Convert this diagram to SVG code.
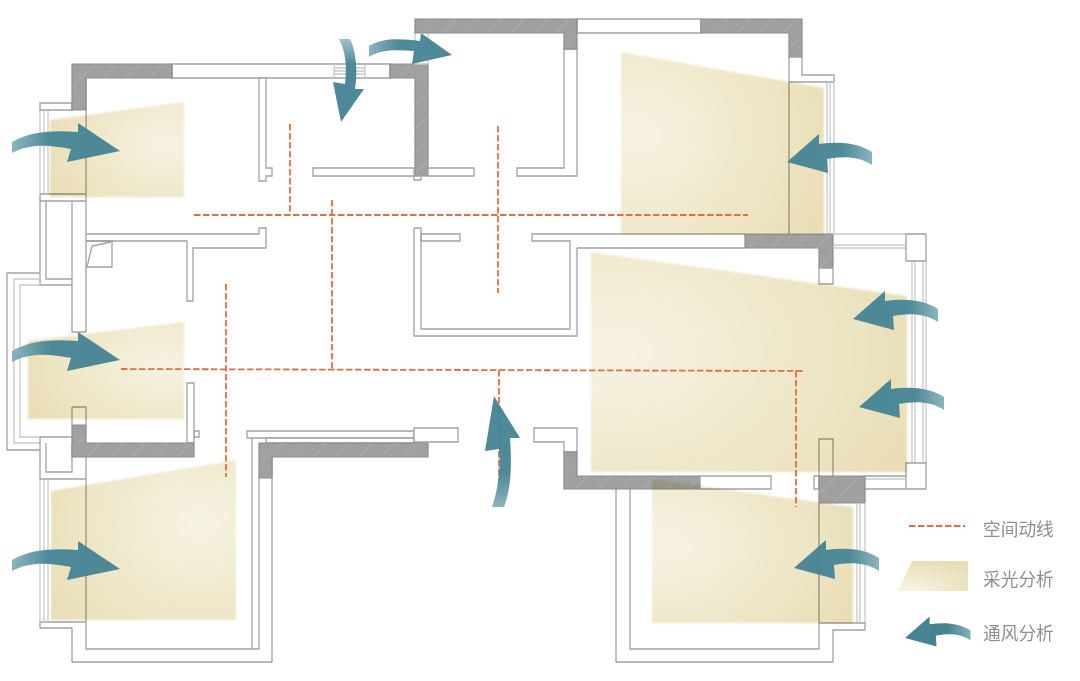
<svg xmlns="http://www.w3.org/2000/svg" width="1080" height="681" viewBox="0 0 1080 681">
<style>
.w{fill:#fff;stroke:#a2a2a2;stroke-width:1.3}
.l{fill:none;stroke:#a2a2a2;stroke-width:1.3}
.f{fill:none;stroke:#c9c9c9;stroke-width:1.3}
.g{fill:url(#hatch);stroke:#8e8e8e;stroke-width:1.2}
.sun{mix-blend-mode:multiply;filter:url(#soft)}
.d{fill:none;stroke:#e0703f;stroke-width:1.8;stroke-dasharray:6.5 2.5}
.t{font-family:"Noto Sans CJK SC","Liberation Sans",sans-serif;font-size:17.7px;fill:#8f8f8f}
.a{opacity:.95}
</style>
<defs>
<pattern id="hatch" width="16" height="16" patternUnits="userSpaceOnUse" patternTransform="rotate(45)">
<rect width="16" height="16" fill="#a0a0a0"/><rect width="1" height="16" fill="#acacac"/>
</pattern>
<filter id="soft" x="-5%" y="-5%" width="110%" height="110%"><feGaussianBlur stdDeviation="1"/></filter>
<radialGradient id="sR" cx=".87" cy=".45" r="1"><stop offset="0" stop-color="#f7f3e3"/><stop offset="1" stop-color="#e8ddb4"/></radialGradient>
<radialGradient id="sC" cx=".8" cy=".4" r="1"><stop offset="0" stop-color="#f7f3e3"/><stop offset="1" stop-color="#e8ddb4"/></radialGradient>
<radialGradient id="sL" cx=".08" cy=".45" r="1.05"><stop offset="0" stop-color="#f7f3e3"/><stop offset="1" stop-color="#e8ddb4"/></radialGradient>
<radialGradient id="sK" cx=".15" cy="1" r="1.1"><stop offset="0" stop-color="#f8f4e6"/><stop offset="1" stop-color="#e8ddb4"/></radialGradient>
<linearGradient id="gr" x1="0" x2="1" y1="0" y2="0"><stop offset="0" stop-color="#86b0ba"/><stop offset=".35" stop-color="#468494"/><stop offset="1" stop-color="#458394"/></linearGradient>
<linearGradient id="gl" x1="1" x2="0" y1="0" y2="0"><stop offset="0" stop-color="#86b0ba"/><stop offset=".35" stop-color="#468494"/><stop offset="1" stop-color="#458394"/></linearGradient>
<linearGradient id="gd" x1="0" x2="0" y1="0" y2="1"><stop offset="0" stop-color="#9cc0c8"/><stop offset=".3" stop-color="#468494"/><stop offset="1" stop-color="#458394"/></linearGradient>
<linearGradient id="gu" x1="0" x2="0" y1="1" y2="0"><stop offset="0" stop-color="#86b0ba"/><stop offset=".3" stop-color="#468494"/><stop offset="1" stop-color="#458394"/></linearGradient>
<path id="arrowLong" fill="url(#gr)" d="M-108,-9C-90,-20 -65,-21 -42,-19L-42,-28L0,0L-53,11L-49,-2C-70,-6 -90,-8 -108,2Z"/>
<path id="arrowShortR" fill="url(#gr)" d="M-83,-9C-68,-18 -50,-16 -32,-14L-31,-22L0,0L-40,9L-38,-4C-55,-5 -70,-6 -83,2Z"/>
<path id="arrowLeft" fill="url(#gl)" d="M85,-10C72,-19 52,-21 32,-18L32,-28L0,0L41,11L40,-3C55,-6 72,-6 85,3Z"/>
</defs>

<g id="plan">
<path class="l" d="M86,457V649H259V478M272,457V662H72V628H40V622H86"/>
<path class="l" d="M252,438V649"/>
<path class="f" d="M40,479V622M44,479V622M48,479V622"/>
<path class="l" d="M40,479H86"/>
<path class="f" d="M40,110V194M44,110V194M48,110V194"/>
<path class="w" d="M40,103H72V110H40Z"/>
<path class="l" d="M40,194H86M40,201H86M40,194V285H72M46,201V279H72M72,201V332H86M86,78V332"/>
<path class="l" d="M40,273H7V450H40"/>
<path class="f" d="M40,279H14V443H40M40,285H20V437H40"/>
<path class="l" d="M72,407H86V425M72,407V425"/>
<path class="l" d="M40,437H72M40,437V479M46,443V472H72V443"/>
<path class="w" d="M172,64H390V78H172Z"/>
<path class="f" d="M334,64V78M365,64V78M334,68H365M334,71H365M334,74H365"/>
<path class="g" d="M72,64H172V78H86V110H72Z"/>
<path class="g" d="M390,64H428V176H415V78H390Z"/>
<path class="w" d="M414,176H421V180H414Z"/>
<path class="w" d="M259,78H266V168H272V176H266V181H259Z"/>
<path class="w" d="M313,168H414V176H313Z"/>
<path class="w" d="M428,168H474V176H428Z"/>
<path class="w" d="M415,27H428V64H415Z" style="stroke:#c9c9c9"/>
<path class="w" d="M564,49H577V176H517V168H564Z"/>
<path class="w" d="M577,19H701V33H577Z"/>
<path class="g" d="M415,19H577V49H564V33H415Z"/>
<path class="g" d="M701,19H802V57H789V33H701Z"/>
<path class="w" d="M789,57H802V75H834V82H789Z"/>
<path class="l" d="M789,82V234"/>
<path class="f" d="M827,82V234M830,82V234M834,82V234"/>
<path class="l" d="M86,234H259V228H266V248H193V301H187V241H86"/>
<path class="l" d="M86,241H112V267H86M92,246L111,242M92,246L87,267"/>
<path class="w" d="M421,234H460V241H421Z"/>
<path class="l" d="M414,228H421V329H570V241H532V234H745M577,248H745M414,228V336H577V248"/>
<path class="g" d="M745,234H833V268H819V248H745Z"/>
<path class="w" d="M819,268H833V284H819Z"/>
<path class="f" d="M833,234H906M833,245H906M833,248H906"/>
<path class="f" d="M912,261V463M915,261V463M923,261V463M926,261V463"/>
<path class="w" d="M906,234H926V261H906Z"/>
<path class="w" d="M906,463H926V489H906Z"/>
<path class="f" d="M865,479H906"/>
<path class="l" d="M865,476H906M865,489H906"/>
<path class="l" d="M819,476V439H833V476"/>
<path class="w" d="M814,476H819V489H814Z"/>
<path class="g" d="M819,476H865V503H819Z"/>
<path class="f" d="M857,503V623M860,503V623M865,503V623"/>
<path class="l" d="M819,503V649H630V489M616,489V662H833V630H865V623H819"/>
<path class="w" d="M194,431H199V437H194Z"/>
<path class="w" d="M187,383H194V443H187Z"/>
<path class="g" d="M72,425H86V443H194V457H72Z"/>
<path class="w" d="M247,431H414V438H247Z"/>
<path class="w" d="M266,438H414V443H266Z"/>
<path class="w" d="M414,428H458V442H414Z"/>
<path class="g" d="M259,443H428V457H272V478H259Z"/>
<path class="w" d="M534,428H577V452H564V442H534Z"/>
<path class="g" d="M564,452H577V476H700V489H564Z"/>
<path class="w" d="M700,476H771V489H700Z"/>
</g>

<g id="daylight">
<polygon class="sun" fill="url(#sR)" points="50,120 184,102 184,197 50,197"/>
<polygon class="sun" fill="url(#sR)" points="28,341 184,322 184,419 28,419"/>
<polygon class="sun" fill="url(#sC)" points="51,491 236,460 236,620 51,620"/>
<polygon class="sun" fill="url(#sL)" points="621,52 824,88 824,234 621,234"/>
<polygon class="sun" fill="url(#sL)" points="591,252 907,296 907,472 591,472"/>
<polygon class="sun" fill="url(#sL)" points="652,479 853,507 853,623 652,623"/>
</g>

<g id="connectors">
<path class="d" d="M194,215H748"/>
<path class="d" d="M290,124V215"/>
<path class="d" d="M332,200V369"/>
<path class="d" d="M498,126V293"/>
<path class="d" d="M226,284V477"/>
<path class="d" d="M121,369L805,371"/>
<path class="d" d="M796,371V507"/>
<path class="d" d="M499,370V481"/>
</g>

<g id="airflow" class="a">
<use href="#arrowLong" x="120" y="151"/>
<use href="#arrowLong" x="120" y="360"/>
<use href="#arrowLong" x="120" y="569"/>
<use href="#arrowLeft" x="787" y="162"/>
<use href="#arrowLeft" x="853" y="319"/>
<use href="#arrowLeft" x="859" y="407"/>
<use href="#arrowLeft" x="794" y="568"/>
<path fill="url(#gd)" d="M350,39C356,50 358,72 355,89L364,89L341,122L333,82L345,84C347,68 346,52 339,39Z"/>
<use href="#arrowShortR" x="452" y="55"/>
<path fill="url(#gu)" d="M494,396L520,438L510,438C512,465 511,490 504,507L492,507C498,490 501,468 499,449L485,451Z"/>
</g>

<g id="legend">
<path class="d" d="M909,526H965"/>
<polygon fill="url(#sK)" points="912,561 968,561 968,591 898,591"/>
<use href="#arrowLeft" transform="translate(905,638) scale(.77)"/>
<text class="t" x="983" y="536">空间动线</text>
<text class="t" x="983" y="586">采光分析</text>
<text class="t" x="983" y="640">通风分析</text>
</g>
</svg>
